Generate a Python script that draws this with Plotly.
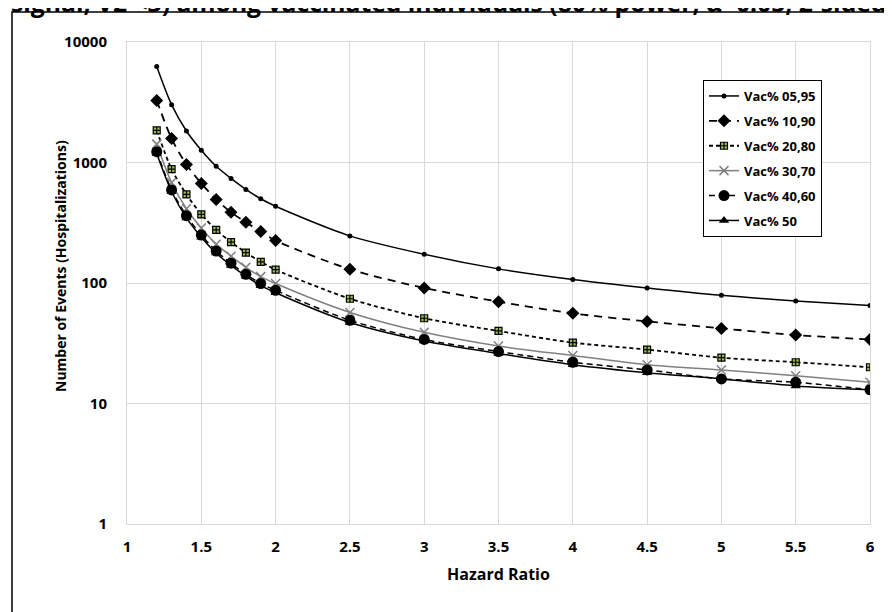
import plotly.graph_objects as go

hazard_ratio = [1.2, 1.3, 1.4, 1.5, 1.6, 1.7, 1.8, 1.9, 2.0, 2.5, 3.0, 3.5, 4.0, 4.5, 5.0, 5.5, 6.0]

vac_05_95 = [6265, 3019, 1825, 1264, 931, 738, 598, 500, 433, 246, 173, 131, 107, 91, 79, 71, 65]
vac_10_90 = [3275, 1579, 962, 670, 494, 386, 319, 267, 225, 130, 91, 70, 56, 48, 42, 37, 34]
vac_20_80 = [1849, 880, 544, 371, 276, 218, 179, 150, 129, 74, 51, 40, 32, 28, 24, 22, 20]
vac_30_70 = [1420, 682, 413, 286, 210, 167, 135, 113, 99, 57, 39, 30, 25, 21, 19, 17, 15]
vac_40_60 = [1230, 592, 362, 250, 184, 146, 118, 99, 87, 49, 34, 27, 22, 19, 16, 15, 13]
vac_50 = [1190, 574, 347, 240, 177, 140, 114, 95, 83, 47, 33, 26, 21, 18, 16, 14, 13]

series_names = ["Vac% 05,95", "Vac% 10,90", "Vac% 20,80", "Vac% 30,70", "Vac% 40,60", "Vac% 50"]

x_tick_vals = [1, 1.5, 2, 2.5, 3, 3.5, 4, 4.5, 5, 5.5, 6]
x_tick_text = ["1", "1.5", "2", "2.5", "3", "3.5", "4", "4.5", "5", "5.5", "6"]
y_tick_vals = [1, 10, 100, 1000, 10000]
y_tick_text = ["1", "10", "100", "1000", "10000"]

title_text = "signal, V2 <3) among vaccinated individuals (80% power, α=0.05, 2-sided)"
x_title = "Hazard Ratio"
y_title = "Number of Events (Hospitalizations)"

FONT = "Open Sans"

styles = [
    dict(line=dict(color="black", width=1.5, dash="solid"),
         marker=dict(symbol="circle", size=5, color="black")),
    dict(line=dict(color="black", width=1.8, dash="8px,6px"),
         marker=dict(symbol="diamond", size=10, color="black")),
    dict(line=dict(color="black", width=1.8, dash="4px,3px"),
         marker=dict(symbol="square-cross", size=7, color="#9bbb59",
                     line=dict(color="black", width=1.2))),
    dict(line=dict(color="#808080", width=1.5, dash="solid"),
         marker=dict(symbol="x-thin", size=9, color="#808080",
                     line=dict(color="#808080", width=1.5))),
    dict(line=dict(color="black", width=1.5, dash="6px,4px"),
         marker=dict(symbol="circle", size=11, color="black")),
    dict(line=dict(color="black", width=1.5, dash="solid"),
         marker=dict(symbol="triangle-up", size=9, color="black")),
]

all_series = [vac_05_95, vac_10_90, vac_20_80, vac_30_70, vac_40_60, vac_50]

fig = go.Figure()
for i, (name, vals, st) in enumerate(zip(series_names, all_series, styles)):
    fig.add_trace(go.Scatter(
        x=hazard_ratio, y=vals, name=name, mode="lines+markers",
        line=dict(shape="spline", smoothing=0.8, **st["line"]),
        marker=st["marker"], legendgroup=f"g{i}",
    ))

# page body has an 8px margin: screen = figure + 8
OFF = 8
W, H = 892, 612
SL, SR, STOP, SBOT = 127, 870, 42, 524  # plot area in screen pixels
L, T = SL - OFF, STOP - OFF
R, B = W - (SR - OFF), H - (SBOT - OFF)
pw, ph = W - L - R, H - T - B


def sx(px):
    return (px - OFF - L) / pw


def sy(py):
    return (H - B - (py - OFF)) / ph


fig.update_layout(
    width=W, height=H,
    margin=dict(l=L, r=R, t=T, b=B, autoexpand=False),
    paper_bgcolor="white", plot_bgcolor="white",
    font=dict(family=FONT, color="black"),
    showlegend=True,
    legend=dict(
        x=sx(703), y=sy(80), xanchor="left", yanchor="top",
        bgcolor="white", bordercolor="black", borderwidth=1,
        font=dict(family=FONT, size=13, color="black", weight="bold"),
        tracegroupgap=5, traceorder="grouped",
    ),
    xaxis=dict(
        range=[1, 6], tickvals=x_tick_vals, ticktext=x_tick_text,
        showgrid=True, gridcolor="#d9d9d9", gridwidth=1,
        showline=True, linecolor="#d9d9d9", linewidth=1, mirror=True,
        ticks="", ticklabelstandoff=9, zeroline=False, automargin=False,
        tickfont=dict(family=FONT, size=15, weight="bold"),
    ),
    yaxis=dict(
        type="log", range=[0, 4], tickvals=y_tick_vals, ticktext=y_tick_text,
        showgrid=True, gridcolor="#d9d9d9", gridwidth=1,
        showline=True, linecolor="#d9d9d9", linewidth=1, mirror=True,
        ticks="", ticklabelstandoff=16, zeroline=False, automargin=False,
        tickfont=dict(family=FONT, size=15, weight="bold"),
    ),
    shapes=[dict(type="rect", xref="paper", yref="paper",
                 x0=sx(12), x1=1.2, y0=-0.4, y1=sy(12),
                 line=dict(color="black", width=1.5), fillcolor="rgba(0,0,0,0)", layer="below")],
    annotations=[
        dict(text=title_text, xref="paper", yref="paper",
             x=sx(9), y=sy(2), xanchor="left", yanchor="middle",
             showarrow=False,
             font=dict(family=FONT, size=24.7, color="black", weight="bold")),
        dict(text=x_title, xref="paper", yref="paper",
             x=sx(498), y=sy(574), xanchor="center", yanchor="middle",
             showarrow=False,
             font=dict(family=FONT, size=16, color="black", weight="bold")),
        dict(text=y_title, xref="paper", yref="paper", textangle=-90,
             x=sx(60), y=sy(266), xanchor="center", yanchor="middle",
             showarrow=False,
             font=dict(family=FONT, size=14, color="black", weight="bold")),
    ],
)

fig.write_html("out.html")
